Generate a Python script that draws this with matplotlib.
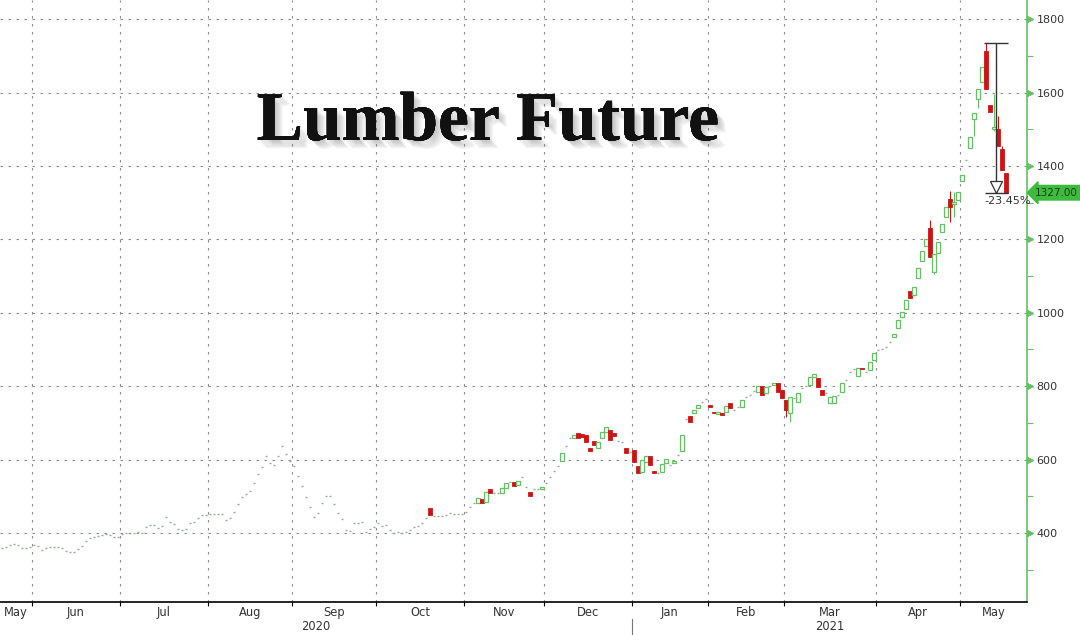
import numpy as np
import matplotlib.pyplot as plt
from matplotlib import patheffects
from matplotlib.patches import Rectangle

# one entry per trading day, month by month
# a number = flat day (open = close), (open, close) or (open, close, high, low)
may20 = [360, 363, 368, 370, 368, 360, 358, 362]
jun20 = [366, 364, 355, 360, 362, 363, 361, 358, 350, 347, 349, 356, 365, 378, 386,
         388, 392, 395, 396, 394, 390, 389]
jul20 = [398, 400, 401, 399, 402, 400, 415, 422, 421, 414, 418, 444, 430, 425, 410,
         408, 412, 427, 430, 440, 449, 450]
aug20 = [452, 453, 451, 453, 436, 440, 458, 478, 498, 505, 515, 535, 560, 580, 610,
         590, 584, 610, 638, 615, 596]
sep20 = [582, 555, 528, 498, 472, 443, 455, 483, 500, 501, 478, 455, 438, 408, 405,
         428, 427, 430, 402, 410, 416]
oct20 = [427, 420, 422, 407, 400, 404, 400, 403, 409, 415, 420, 428, 442, (468, 449),
         447, 446, 445, 448, 455, 452, 453, 452]
nov20 = [458, 470, 482, (482, 494), (493, 482), (485, 512), (520, 509), 509, 508,
         (509, 523), (522, 536), 538, (539, 528), (530, 542), 553, 526, (512, 501),
         519, 520, (520, 526)]
dec20 = [535, 553, 568, 583, (596, 618), 637, 659, (659, 667), (673, 659), (670, 662),
         (667, 648), (632, 624), (651, 640), (632, 648), (659, 676), (676, 689),
         (681, 654), (673, 665), 651, 648, (632, 618), 622]
jan21 = [(626, 594), (583, 564), (566, 599), (594, 610), (610, 586), (569, 564), 564,
         (566, 589), (591, 602), 586, (591, 597), 613, (624, 667), 711, (719, 703),
         (727, 735), (741, 749), 757, 764]
feb21 = [(750, 744), (730, 727), (724, 729), (726, 721), (730, 746), (755, 741), 736,
         744, (744, 763), 771, 777, 787, (785, 801), (801, 777), (782, 798), 801,
         (803, 809), (809, 785), (790, 768)]
mar21 = [(763, 736, 763, 717), (727, 771, 771, 703), 768, (757, 782), 796, 801,
         (804, 826), (826, 832), (823, 798), (790, 777), 782, (755, 771), (755, 774),
         777, (785, 809), 817, 839, 848, (828, 850), (850, 846), 839, (845, 867),
         (872, 891)]
apr21 = [898, 900, 908, 919, (935, 943), (959, 981), (989, 1003), (1009, 1036),
         (1058, 1041), (1049, 1071), (1096, 1123), (1140, 1167), (1181, 1200),
         (1232, 1153, 1254, 1153), (1112, 1159, 1159, 1105), (1164, 1192), (1219, 1241),
         (1260, 1287), (1309, 1287, 1333, 1246), (1296, 1303, 1330, 1260), (1306, 1328)]
may21 = [(1358, 1376), 1415, (1449, 1479), (1529, 1545, 1545, 1481),
         (1582, 1609, 1609, 1558), (1628, 1669), (1713, 1609, 1733.5, 1609), (1565, 1546),
         (1500, 1505, 1597, 1495), (1500, 1453, 1535, 1453), (1445, 1390, 1453, 1390),
         (1382, 1327)]

months = [may20, jun20, jul20, aug20, sep20, oct20, nov20, dec20,
          jan21, feb21, mar21, apr21, may21]
month_labels = ['May', 'Jun', 'Jul', 'Aug', 'Sep', 'Oct', 'Nov', 'Dec',
                'Jan', 'Feb', 'Mar', 'Apr', 'May']
years = ['2020', '2021']
year_start_month = 8   # Jan 2021
title = 'Lumber Future'

GREEN = '#66c066'
RED = '#cc1414'
DASH = '#98a898'

# flatten into OHLC arrays
opens, closes, highs, lows = [], [], [], []
for m in months:
    for d in m:
        if np.isscalar(d):
            o = c = d
            h = l = d
        elif len(d) == 2:
            o, c = d
            h, l = max(d), min(d)
        else:
            o, c, h, l = d
        opens.append(o); closes.append(c); highs.append(h); lows.append(l)
opens = np.array(opens, float); closes = np.array(closes, float)
highs = np.array(highs, float); lows = np.array(lows, float)
idx = np.arange(len(closes))

lengths = [len(m) for m in months]
bounds = np.cumsum(lengths)[:-1] - 0.5   # month boundaries

fig = plt.figure(figsize=(10.8, 6.35), dpi=100)
ax = fig.add_axes([0.0, 33 / 635, 1027 / 1080, 602 / 635])

xmin, xmax = -0.5, 256.25
ax.set_xlim(xmin, xmax)
ax.set_ylim(212, 1852)

# candles
w = 0.8
for i in idx:
    o, c, h, l = opens[i], closes[i], highs[i], lows[i]
    if o == c:
        ax.hlines(c, i - 0.32, i + 0.32, color=DASH, lw=1.0, zorder=3)
        if h != l:
            ax.vlines(i, l, h, color=DASH, lw=0.8, zorder=2)
        continue
    col = GREEN if c > o else RED
    if h > max(o, c) or l < min(o, c):
        ax.vlines(i, l, h, color=col, lw=0.8, zorder=2)
    if c > o:
        ax.add_patch(Rectangle((i - w / 2, o), w, c - o, fc='white', ec=GREEN,
                               lw=0.9, zorder=3))
    else:
        ax.add_patch(Rectangle((i - w / 2, c), w, o - c, fc=RED, ec=RED,
                               lw=0.6, zorder=3))

# peak to last drawdown bracket
ipk = int(np.argmax(highs))
peak = highs[ipk]
ilast = idx[-1]
last = closes[-1]
xm = (ipk + ilast) / 2
ax.hlines(peak, ipk - 0.5, ilast + 0.5, color='#333333', lw=1.0, zorder=4)
ax.hlines(last, ipk - 0.3, ilast + 0.5, color='#333333', lw=1.0, zorder=4)
ax.vlines(xm, last, peak, color='#333333', lw=1.0, zorder=4)
ax.plot([xm], [last + 15], marker='v', ms=8, mfc='white', mec='#333333', mew=0.9,
        zorder=5)
pct = (last / peak - 1) * 100
ax.text(ipk - 0.3, last - 10, f'{pct:.2f}%', ha='left', va='top', fontsize=8,
        color='#333333', zorder=5)

# grid and axes
ax.set_xticks(bounds)
ax.set_xticklabels([])
ax.tick_params(axis='x', length=3, width=0.8, color='black', direction='out')
ax.set_yticks(np.arange(400, 1801, 200))
ax.set_yticks(np.arange(300, 1801, 200), minor=True)
ax.yaxis.tick_right()
ax.tick_params(axis='y', which='major', length=0, pad=7, labelsize=8,
               labelcolor='#333333')
ax.tick_params(axis='y', which='minor', length=4, width=0.8, color=GREEN)
ax.grid(True, which='major', color='#8a8a8a', lw=0.8, linestyle=(0, (2.2, 5)))
ax.set_axisbelow(True)
for s in ['left', 'top']:
    ax.spines[s].set_visible(False)
ax.spines['right'].set_color(GREEN)
ax.spines['right'].set_linewidth(1.2)
ax.spines['bottom'].set_color('black')
ax.spines['bottom'].set_linewidth(1.2)

# small arrow heads on the value ticks
yt = np.arange(400, 1801, 200)
ax.plot(np.full(len(yt), 1.003), yt, linestyle='none', marker='>', ms=4.5,
        color=GREEN, transform=ax.get_yaxis_transform(), clip_on=False)

# last price tag
ax.text(1035 / 1027, last, f'{last:.2f}', transform=ax.get_yaxis_transform(),
        ha='left', va='center', fontsize=7.5, color='#1c3a1c', clip_on=False,
        bbox=dict(boxstyle='larrow,pad=0.22', fc='#3dbb3d', ec='#3dbb3d'))

# month and year labels
edges = np.concatenate([[xmin], bounds, [xmax]])
xt = ax.get_xaxis_transform()
for k, lab in enumerate(month_labels):
    ax.annotate(lab, xy=((edges[k] + edges[k + 1]) / 2, 0), xycoords=xt,
                xytext=(0, -7.3), textcoords='offset points', ha='center',
                va='center', fontsize=8.3, color='#333333', annotation_clip=False)
ysplit = bounds[year_start_month - 1]
for lab, (a, b) in zip(years, [(xmin, ysplit), (ysplit, xmax)]):
    ax.annotate(lab, xy=((a + b) / 2, 0), xycoords=xt, xytext=(0, -17.5),
                textcoords='offset points', ha='center', va='center', fontsize=8.3,
                color='#333333', annotation_clip=False)
ax.plot([ysplit, ysplit], [-17 / 602, -34 / 602], color='#777777', lw=0.8,
        transform=xt, clip_on=False)

# title with soft shadow
shadow = [patheffects.withSimplePatchShadow(offset=(o, -o), shadow_rgbFace='#666666',
                                            alpha=0.07) for o in (1, 2, 3, 4, 5, 6)]
fig.text(488 / 1080, 1 - 140 / 635, title, ha='center', va='baseline',
         fontsize=50, fontweight='bold', family='Liberation Serif', color='#111111',
         path_effects=shadow + [patheffects.Normal()])

fig.savefig('out.png', dpi=100)
